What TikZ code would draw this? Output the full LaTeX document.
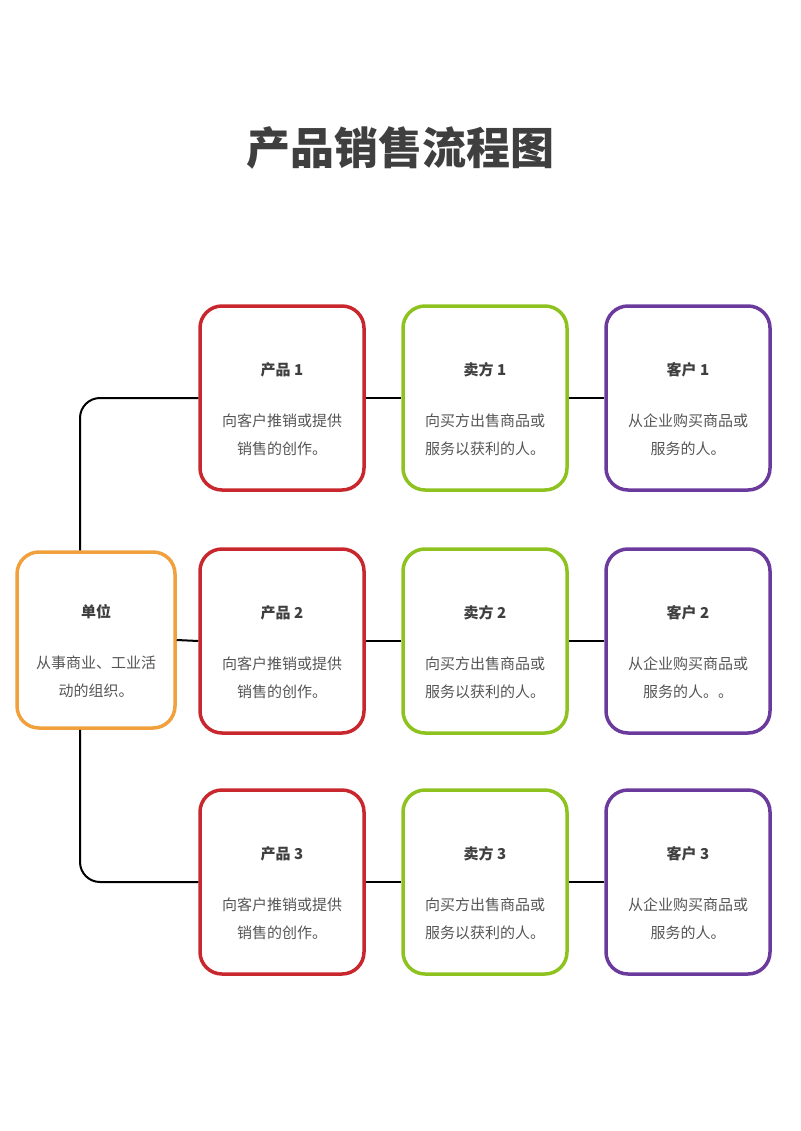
\documentclass[tikz,border=0pt]{standalone}
\usepackage{fontspec}
\setmainfont{Noto Sans CJK SC}
\usetikzlibrary{positioning}
\definecolor{cred}{HTML}{C8282D}
\definecolor{cgreen}{HTML}{8DC21F}
\definecolor{cpurple}{HTML}{6A3A9C}
\definecolor{corange}{HTML}{F0A03C}
\definecolor{ctext}{HTML}{555555}
\definecolor{ctitle}{HTML}{3F3F3F}
\tikzset{
  card/.style={draw=#1, line width=3.5pt, line join=round, rounded corners=22pt,
    minimum width=164pt, minimum height=184pt, align=center,
    text=ctext, font=\fontsize{15}{28}\selectfont},
  link/.style={draw=black, line width=2pt, rounded corners=20pt}
}
\newcommand{\cardtext}[3]{\rule{0pt}{0pt}\\[8pt]\textbf{\color{ctitle}#1}\\[23pt]#2\\#3}
\begin{document}
\begin{tikzpicture}[x=1pt,y=-1pt]
\useasboundingbox (0,0) rectangle (800,1131);
% title
\node[font=\fontsize{44}{50}\selectfont\bfseries, text=ctitle] (title) at (400,148) {产品销售流程图};

% unit
\node[card=corange, minimum width=158pt, minimum height=176pt] (unit) at (96,640)
  {\cardtext{单位}{从事商业、工业活}{动的组织。}};

% rows
\node[card=cred] (p1) at (282,398) {\cardtext{产品 1}{向客户推销或提供}{销售的创作。}};
\node[card=cgreen] (s1) at (485,398) {\cardtext{卖方 1}{向买方出售商品或}{服务以获利的人。}};
\node[card=cpurple] (c1) at (688,398) {\cardtext{客户 1}{从企业购买商品或}{服务的人。}};

\node[card=cred] (p2) at (282,641) {\cardtext{产品 2}{向客户推销或提供}{销售的创作。}};
\node[card=cgreen] (s2) at (485,641) {\cardtext{卖方 2}{向买方出售商品或}{服务以获利的人。}};
\node[card=cpurple] (c2) at (688,641) {\cardtext{客户 2}{从企业购买商品或}{服务的人。。}};

\node[card=cred] (p3) at (282,882) {\cardtext{产品 3}{向客户推销或提供}{销售的创作。}};
\node[card=cgreen] (s3) at (485,882) {\cardtext{卖方 3}{向买方出售商品或}{服务以获利的人。}};
\node[card=cpurple] (c3) at (688,882) {\cardtext{客户 3}{从企业购买商品或}{服务的人。}};

% connectors
\foreach \r in {1,2,3}{
  \draw[link] (p\r.east) -- (s\r.west);
  \draw[link] (s\r.east) -- (c\r.west);
}
\draw[link] (unit.east) -- (p2.west);
\draw[link] ([xshift=-16pt]unit.north) |- (p1.west);
\draw[link] ([xshift=-16pt]unit.south) |- (p3.west);
\end{tikzpicture}
\end{document}
